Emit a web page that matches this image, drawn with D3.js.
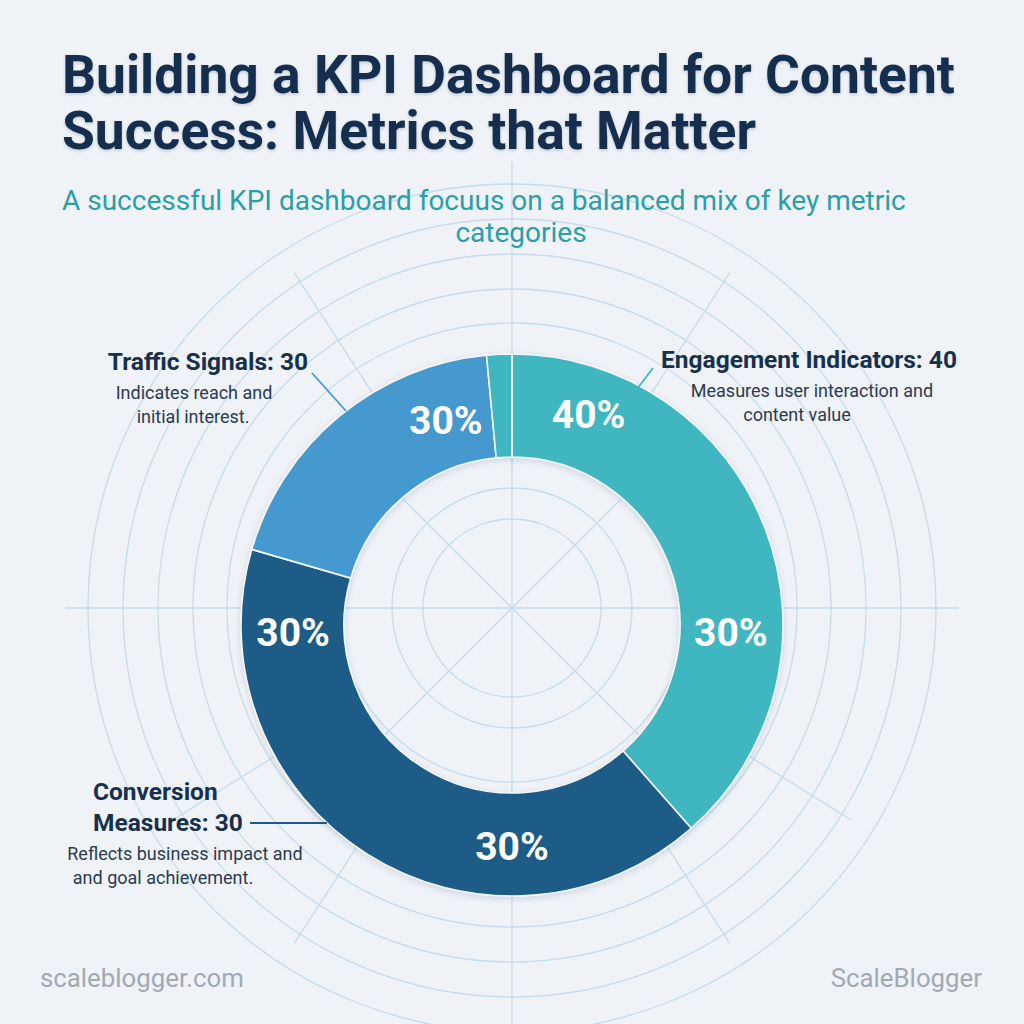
<!DOCTYPE html>
<html>
<head>
<meta charset="utf-8">
<script src="https://cdn.jsdelivr.net/npm/d3@7"></script>
<style>
  html, body { margin: 0; padding: 0; background: #eff3f8; }
  svg { display: block; font-family: Roboto, "Noto Sans", sans-serif; }
</style>
</head>
<body>
<svg id="chart" width="1024" height="1024"></svg>
<script>
// slices as drawn, clockwise from 12 o'clock
var sliceCategories = ['Engagement', 'Conversion', 'Traffic', 'Engagement'];
var sliceValues = [38.5, 41, 19, 1.5];

// in-ring percentage labels
var pctLabels = ['40%', '30%', '30%', '30%', '30%'];

// callout text
var calloutCategories = ['Traffic', 'Engagement', 'Conversion'];
var calloutTitles = [['Traffic Signals: 30'], ['Engagement Indicators: 40'], ['Conversion', 'Measures: 30']];
var calloutDescs = [
  ['Indicates reach and', 'initial interest.'],
  ['Measures user interaction and', 'content value'],
  ['Reflects business impact and', 'and goal achievement.']
];

var gridRadii = [89, 120, 174, 285, 319, 354, 389, 424];
var innerSpokes = [0, 45, 90, 135, 180, 225, 270, 315];
var outerSpokes = [0, 33, 90, 122, 147, 180, 213, 238, 270, 327];

var colors = d3.scaleOrdinal()
  .domain(['Engagement', 'Conversion', 'Traffic'])
  .range(['#40b6c1', '#1e5b86', '#4499cf']);

var svg = d3.select('#chart')
  , W = 1024, H = 1024
  , gx = 512, gy = 608          // grid centre
  , cx = 512, cy = 625          // donut centre
  , rIn = 168, rOut = 271;

var defs = svg.append('defs');
defs.append('filter').attr('id', 'shadow')
  .attr('x', '-20%').attr('y', '-20%').attr('width', '140%').attr('height', '140%')
  .append('feDropShadow')
  .attr('dx', 0).attr('dy', 2).attr('stdDeviation', 3)
  .attr('flood-color', '#1b3550').attr('flood-opacity', 0.15);
defs.append('filter').attr('id', 'tshadow')
  .append('feDropShadow')
  .attr('dx', 0).attr('dy', 1.5).attr('stdDeviation', 1.5)
  .attr('flood-color', '#0e2540').attr('flood-opacity', 0.2);

svg.append('rect').attr('width', W).attr('height', H).attr('fill', '#eff3f8');

// polar grid
var grid = svg.append('g')
  .attr('transform', 'translate(' + gx + ',' + gy + ')')
  .attr('fill', 'none')
  .attr('stroke', '#c6dbec')
  .attr('stroke-width', 1.3);

grid.selectAll('circle')
  .data(gridRadii)
  .enter().append('circle')
  .attr('r', function(d) { return d; });

grid.selectAll('line.inner')
  .data(innerSpokes)
  .enter().append('line')
  .attr('class', 'inner')
  .attr('x1', 0).attr('y1', 0)
  .attr('x2', function(d) { return d3.pointRadial(d * Math.PI / 180, 185)[0]; })
  .attr('y2', function(d) { return d3.pointRadial(d * Math.PI / 180, 185)[1]; });

grid.selectAll('line.outer')
  .data(outerSpokes)
  .enter().append('line')
  .attr('class', 'outer')
  .attr('x1', function(d) { return d3.pointRadial(d * Math.PI / 180, 250)[0]; })
  .attr('y1', function(d) { return d3.pointRadial(d * Math.PI / 180, 250)[1]; })
  .attr('x2', function(d) { var r = d % 90 === 0 ? 447 : 400; return d3.pointRadial(d * Math.PI / 180, r)[0]; })
  .attr('y2', function(d) { var r = d % 90 === 0 ? 447 : 400; return d3.pointRadial(d * Math.PI / 180, r)[1]; });

// title
var titleLines = ['Building a KPI Dashboard for Content', 'Success: Metrics that Matter'];
svg.append('g').attr('filter', 'url(#tshadow)')
  .selectAll('text')
  .data(titleLines)
  .enter().append('text')
  .attr('x', 62)
  .attr('y', function(d, i) { return 93 + i * 56; })
  .attr('fill', '#142f4e')
  .attr('font-size', 53.4)
  .attr('font-weight', 700)
  .text(function(d) { return d; });

svg.append('text')
  .attr('x', 62).attr('y', 210)
  .attr('fill', '#2b9ea8')
  .attr('font-size', 28)
  .text('A successful KPI dashboard focuus on a balanced mix of key metric');
svg.append('text')
  .attr('x', 521).attr('y', 242)
  .attr('text-anchor', 'middle')
  .attr('fill', '#2b9ea8')
  .attr('font-size', 28)
  .text('categories');

// donut
var pie = d3.pie().sort(null).value(function(d) { return d.value; });
var arc = d3.arc().innerRadius(rIn).outerRadius(rOut);
var slices = sliceValues.map(function(v, i) { return { cat: sliceCategories[i], value: v }; });

var donut = svg.append('g')
  .attr('transform', 'translate(' + cx + ',' + cy + ')');

donut.append('g').attr('filter', 'url(#shadow)')
  .selectAll('path')
  .data(pie(slices))
  .enter().append('path')
  .attr('d', arc)
  .attr('fill', function(d) { return colors(d.data.cat); })
  .attr('stroke', '#f4f7fb')
  .attr('stroke-width', 1.6);

var pctAngles = [20, 92, 180, 268, -18];
var pctRadius = [224, 219, 222, 219, 214];
donut.selectAll('text.pct')
  .data(pctLabels)
  .enter().append('text')
  .attr('class', 'pct')
  .attr('x', function(d, i) { return d3.pointRadial(pctAngles[i] * Math.PI / 180, pctRadius[i])[0]; })
  .attr('y', function(d, i) { return d3.pointRadial(pctAngles[i] * Math.PI / 180, pctRadius[i])[1] + 13; })
  .attr('text-anchor', 'middle')
  .attr('fill', '#ffffff')
  .attr('font-size', 39)
  .attr('font-weight', 700)
  .text(function(d) { return d; });

// callouts
var calloutPos = [
  { x: 208, y: 370, anchor: 'middle', dx: [194, 193], lx1: 312, ly1: 373, lx2: 346, ly2: 411 },
  { x: 809, y: 368, anchor: 'middle', dx: [812, 797], lx1: 653, ly1: 368, lx2: 637, ly2: 389 },
  { x: 93,  y: 800, anchor: 'start',  dx: [185, 163], lx1: 250, ly1: 823, lx2: 327, ly2: 823 }
];

calloutCategories.forEach(function(cat, i) {
  var p = calloutPos[i];
  var g = svg.append('g');
  g.append('line')
    .attr('x1', p.lx1).attr('y1', p.ly1)
    .attr('x2', p.lx2).attr('y2', p.ly2)
    .attr('stroke', colors(cat))
    .attr('stroke-width', 1.8);
  g.selectAll('text.t')
    .data(calloutTitles[i])
    .enter().append('text')
    .attr('class', 't')
    .attr('x', p.x)
    .attr('y', function(d, j) { return p.y + j * 31; })
    .attr('text-anchor', p.anchor)
    .attr('fill', '#17304d')
    .attr('font-size', 24.5)
    .attr('font-weight', 700)
    .text(function(d) { return d; });
  var ty = p.y + (calloutTitles[i].length - 1) * 31 + 29;
  g.selectAll('text.d')
    .data(calloutDescs[i])
    .enter().append('text')
    .attr('class', 'd')
    .attr('x', function(d, j) { return p.dx[j]; })
    .attr('y', function(d, j) { return ty + j * 24; })
    .attr('text-anchor', 'middle')
    .attr('fill', '#2a3a50')
    .attr('font-size', 18)
    .text(function(d) { return d; });
});

// footer
svg.append('text')
  .attr('x', 40).attr('y', 987)
  .attr('fill', '#a3a9b3')
  .attr('font-size', 25.8)
  .text('scaleblogger.com');
svg.append('text')
  .attr('x', 982).attr('y', 987)
  .attr('text-anchor', 'end')
  .attr('fill', '#a3a9b3')
  .attr('font-size', 25.8)
  .text('ScaleBlogger');
</script>
</body>
</html>
